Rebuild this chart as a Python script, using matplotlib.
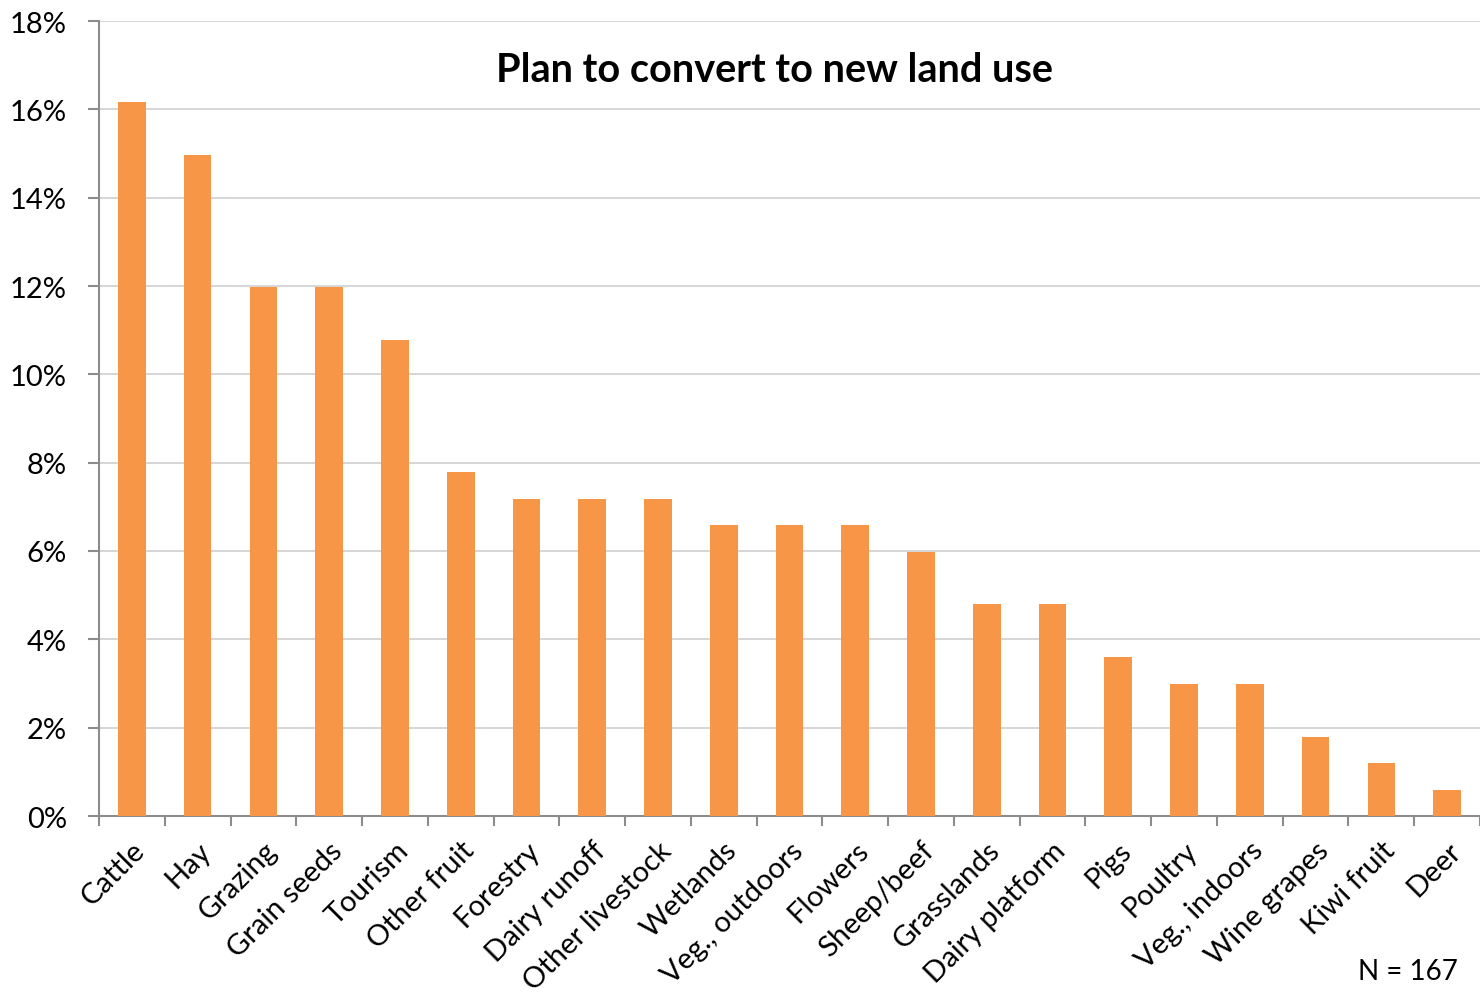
import numpy as np
import matplotlib
matplotlib.use("Agg")
import matplotlib.pyplot as plt
from matplotlib.ticker import FuncFormatter, FixedLocator

# survey answers, N = 167 respondents
categories = ["Cattle", "Hay", "Grazing", "Grain seeds", "Tourism", "Other fruit",
              "Forestry", "Dairy runoff", "Other livestock", "Wetlands",
              "Veg., outdoors", "Flowers", "Sheep/beef", "Grasslands",
              "Dairy platform", "Pigs", "Poultry", "Veg., indoors",
              "Wine grapes", "Kiwi fruit", "Deer"]
counts = [27, 25, 20, 20, 18, 13, 12, 12, 12, 11, 11, 11, 10, 8, 8, 6, 5, 5, 3, 2, 1]
n_total = 167
shares = [c / n_total for c in counts]

plt.rcParams['font.family'] = ['Lato', 'DejaVu Sans']

fig = plt.figure(figsize=(14.8, 9.95), dpi=100)
ax = fig.add_axes([99 / 1480, 1 - 817 / 995, 1 - 99 / 1480, (817 - 22) / 995])

x = np.arange(len(categories))
ax.bar(x, shares, width=0.42, color="#F79646", zorder=3)

ax.set_xlim(-0.5, len(categories) - 0.5)
ax.set_ylim(0, 0.18)
ax.set_yticks(np.arange(0, 0.181, 0.02))
ax.yaxis.set_major_formatter(FuncFormatter(lambda v, p: f"{v*100:.0f}%"))
ax.grid(axis='y', color="#D0D0D0", linewidth=1.2, zorder=0)

ax.set_xticks(x)
ax.set_xticklabels(categories, rotation=45, ha='right', rotation_mode='anchor')
ax.xaxis.set_minor_locator(FixedLocator(np.arange(-0.5, len(categories), 1.0)))
ax.tick_params(axis='x', which='major', length=0, pad=15, labelsize=21)
ax.tick_params(axis='x', which='minor', length=7, width=1.5, color="#8C8C8C")
ax.tick_params(axis='y', length=8, width=1.5, color="#8C8C8C", pad=15, labelsize=21)

for s in ['top', 'right']:
    ax.spines[s].set_visible(False)
for s in ['left', 'bottom']:
    ax.spines[s].set_color("#8C8C8C")
    ax.spines[s].set_linewidth(1.5)

fig.text(775 / 1480, 1 - 70 / 995, "Plan to convert to new land use",
         ha='center', va='center', fontsize=28.5, fontweight='bold')
fig.text(1458 / 1480, 1 - 972 / 995, f"N = {n_total}", ha='right', va='center',
         fontsize=20)

fig.savefig("out.png", dpi=100)
